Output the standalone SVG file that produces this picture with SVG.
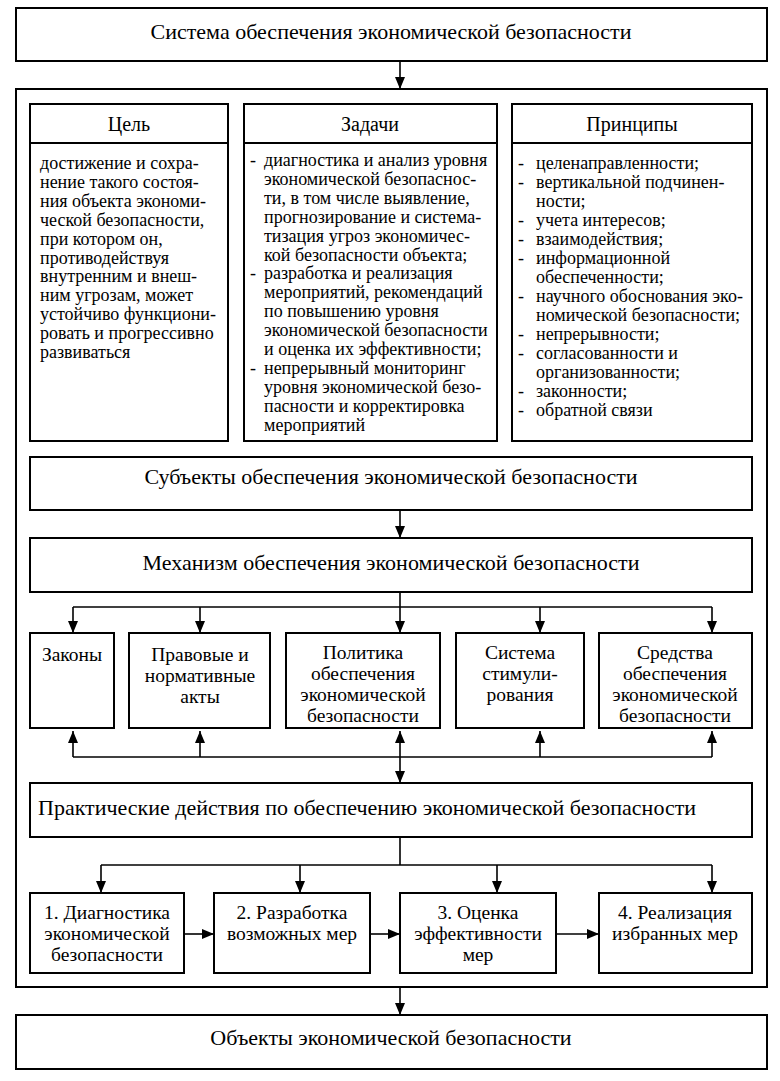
<svg xmlns="http://www.w3.org/2000/svg" width="780" height="1081" viewBox="0 0 780 1081" font-family="'Liberation Serif', 'DejaVu Serif', serif">
<style>
  .box { fill: #ffffff; stroke: #000000; stroke-width: 2; }
  .frame { fill: none; stroke: #000000; stroke-width: 2; }
  .line { fill: none; stroke: #000000; stroke-width: 1.6; }
  .arrow { fill: none; stroke: #000000; stroke-width: 1.6; marker-end: url(#ah); }
  text { font-family: 'Liberation Serif', 'DejaVu Serif', serif; fill: #000000; }
  .title { font-size: 22px; text-anchor: middle; }
  .left { text-anchor: start; }
  .head { font-size: 20px; text-anchor: middle; }
  .body { font-size: 18px; }
  .mid { font-size: 19.5px; text-anchor: middle; }
</style>
<defs>
  <marker id="ah" viewBox="0 0 12 10" refX="12" refY="5" markerWidth="12" markerHeight="10" markerUnits="userSpaceOnUse" orient="auto">
    <path d="M0,0 L12,5 L0,10 z" fill="#000000"/>
  </marker>
</defs>
<rect x="0" y="0" width="780" height="1081" fill="#ffffff"/>

<g id="system">
  <rect class="box" x="16" y="8" width="751" height="53"/>
  <text class="title" x="391" y="39">Система обеспечения экономической безопасности</text>
</g>

<g id="container">
  <rect class="frame" x="16" y="89" width="751" height="898"/>
</g>

<g id="goal">
  <rect class="box" x="30" y="104" width="198" height="39"/>
  <rect class="box" x="30" y="143" width="198" height="298"/>
  <text class="head" x="129" y="131">Цель</text>
  <text class="body" x="40" y="169">
    <tspan x="40" dy="0">достижение и сохра-</tspan>
    <tspan x="40" dy="18.9">нение такого состоя-</tspan>
    <tspan x="40" dy="18.9">ния объекта экономи-</tspan>
    <tspan x="40" dy="18.9">ческой безопасности,</tspan>
    <tspan x="40" dy="18.9">при котором он,</tspan>
    <tspan x="40" dy="18.9">противодействуя</tspan>
    <tspan x="40" dy="18.9">внутренним и внеш-</tspan>
    <tspan x="40" dy="18.9">ним угрозам, может</tspan>
    <tspan x="40" dy="18.9">устойчиво функциони-</tspan>
    <tspan x="40" dy="18.9">ровать и прогрессивно</tspan>
    <tspan x="40" dy="18.9">развиваться</tspan>
  </text>
</g>

<g id="tasks">
  <rect class="box" x="244" y="104" width="253" height="39"/>
  <rect class="box" x="244" y="143" width="253" height="298"/>
  <text class="head" x="370" y="131">Задачи</text>
  <text class="body" x="250" y="166">
    <tspan x="250" dy="0">-</tspan><tspan x="264" dy="0">диагностика и анализ уровня</tspan>
    <tspan x="264" dy="18.9">экономической безопаснос-</tspan>
    <tspan x="264" dy="18.9">ти, в том числе выявление,</tspan>
    <tspan x="264" dy="18.9">прогнозирование и система-</tspan>
    <tspan x="264" dy="18.9">тизация угроз экономичес-</tspan>
    <tspan x="264" dy="18.9">кой безопасности объекта;</tspan>
    <tspan x="250" dy="18.9">-</tspan><tspan x="264" dy="0">разработка и реализация</tspan>
    <tspan x="264" dy="18.9">мероприятий, рекомендаций</tspan>
    <tspan x="264" dy="18.9">по повышению уровня</tspan>
    <tspan x="264" dy="18.9">экономической безопасности</tspan>
    <tspan x="264" dy="18.9">и оценка их эффективности;</tspan>
    <tspan x="250" dy="18.9">-</tspan><tspan x="264" dy="0">непрерывный мониторинг</tspan>
    <tspan x="264" dy="18.9">уровня экономической безо-</tspan>
    <tspan x="264" dy="18.9">пасности и корректировка</tspan>
    <tspan x="264" dy="18.9">мероприятий</tspan>
  </text>
</g>

<g id="principles">
  <rect class="box" x="512" y="104" width="240" height="39"/>
  <rect class="box" x="512" y="143" width="240" height="298"/>
  <text class="head" x="632" y="131">Принципы</text>
  <text class="body" x="518" y="169">
    <tspan x="518" dy="0">-</tspan><tspan x="536" dy="0">целенаправленности;</tspan>
    <tspan x="518" dy="19">-</tspan><tspan x="536" dy="0">вертикальной подчинен-</tspan>
    <tspan x="536" dy="19">ности;</tspan>
    <tspan x="518" dy="19">-</tspan><tspan x="536" dy="0">учета интересов;</tspan>
    <tspan x="518" dy="19">-</tspan><tspan x="536" dy="0">взаимодействия;</tspan>
    <tspan x="518" dy="19">-</tspan><tspan x="536" dy="0">информационной</tspan>
    <tspan x="536" dy="19">обеспеченности;</tspan>
    <tspan x="518" dy="19">-</tspan><tspan x="536" dy="0">научного обоснования эко-</tspan>
    <tspan x="536" dy="19">номической безопасности;</tspan>
    <tspan x="518" dy="19">-</tspan><tspan x="536" dy="0">непрерывности;</tspan>
    <tspan x="518" dy="19">-</tspan><tspan x="536" dy="0">согласованности и</tspan>
    <tspan x="536" dy="19">организованности;</tspan>
    <tspan x="518" dy="19">-</tspan><tspan x="536" dy="0">законности;</tspan>
    <tspan x="518" dy="19">-</tspan><tspan x="536" dy="0">обратной связи</tspan>
  </text>
</g>

<g id="subjects">
  <rect class="box" x="30" y="457" width="722" height="53"/>
  <text class="title" x="391" y="484">Субъекты обеспечения экономической безопасности</text>
</g>

<g id="mechanism">
  <rect class="box" x="30" y="538" width="722" height="54"/>
  <text class="title" x="391" y="570">Механизм обеспечения экономической безопасности</text>
</g>

<g id="laws">
  <rect class="box" x="30" y="633" width="84" height="95"/>
  <text class="mid" x="72" y="661">Законы</text>
</g>
<g id="acts">
  <rect class="box" x="129" y="633" width="141" height="95"/>
  <text class="mid" x="200" y="661"><tspan x="200" dy="0">Правовые и</tspan><tspan x="200" dy="21">нормативные</tspan><tspan x="200" dy="21">акты</tspan></text>
</g>
<g id="policy">
  <rect class="box" x="286" y="633" width="154" height="95"/>
  <text class="mid" x="363" y="659"><tspan x="363" dy="0">Политика</tspan><tspan x="363" dy="21">обеспечения</tspan><tspan x="363" dy="21">экономической</tspan><tspan x="363" dy="21">безопасности</tspan></text>
</g>
<g id="incentives">
  <rect class="box" x="456" y="633" width="128" height="95"/>
  <text class="mid" x="520" y="659"><tspan x="520" dy="0">Система</tspan><tspan x="520" dy="21">стимули-</tspan><tspan x="520" dy="21">рования</tspan></text>
</g>
<g id="means">
  <rect class="box" x="599" y="633" width="153" height="95"/>
  <text class="mid" x="675" y="659"><tspan x="675" dy="0">Средства</tspan><tspan x="675" dy="21">обеспечения</tspan><tspan x="675" dy="21">экономической</tspan><tspan x="675" dy="21">безопасности</tspan></text>
</g>

<g id="practice">
  <rect class="box" x="30" y="783" width="722" height="54"/>
  <text class="title left" x="38" y="815">Практические действия по обеспечению экономической безопасности</text>
</g>

<g id="step1">
  <rect class="box" x="30" y="893" width="154" height="80"/>
  <text class="mid" x="107" y="919"><tspan x="107" dy="0">1. Диагностика</tspan><tspan x="107" dy="21">экономической</tspan><tspan x="107" dy="21">безопасности</tspan></text>
</g>
<g id="step2">
  <rect class="box" x="214" y="893" width="156" height="80"/>
  <text class="mid" x="292" y="919"><tspan x="292" dy="0">2. Разработка</tspan><tspan x="292" dy="21">возможных мер</tspan></text>
</g>
<g id="step3">
  <rect class="box" x="400" y="893" width="156" height="80"/>
  <text class="mid" x="478" y="919"><tspan x="478" dy="0">3. Оценка</tspan><tspan x="478" dy="21">эффективности</tspan><tspan x="478" dy="21">мер</tspan></text>
</g>
<g id="step4">
  <rect class="box" x="599" y="893" width="153" height="80"/>
  <text class="mid" x="675" y="919"><tspan x="675" dy="0">4. Реализация</tspan><tspan x="675" dy="21">избранных мер</tspan></text>
</g>

<g id="objects">
  <rect class="box" x="16" y="1015" width="751" height="54"/>
  <text class="title" x="391" y="1045">Объекты экономической безопасности</text>
</g>

<g id="connectors">
  <line class="arrow" x1="400" y1="61" x2="400" y2="89"/>
  <line class="arrow" x1="400" y1="510" x2="400" y2="538"/>
  <line class="line" x1="400" y1="592" x2="400" y2="607"/>
  <line class="line" x1="73" y1="607" x2="712" y2="607"/>
  <line class="arrow" x1="73" y1="607" x2="73" y2="633"/>
  <line class="arrow" x1="200" y1="607" x2="200" y2="633"/>
  <line class="arrow" x1="400" y1="607" x2="400" y2="633"/>
  <line class="arrow" x1="540" y1="607" x2="540" y2="633"/>
  <line class="arrow" x1="712" y1="607" x2="712" y2="633"/>
  <line class="line" x1="73" y1="757" x2="712" y2="757"/>
  <line class="arrow" x1="73" y1="757" x2="73" y2="731"/>
  <line class="arrow" x1="200" y1="757" x2="200" y2="731"/>
  <line class="arrow" x1="400" y1="757" x2="400" y2="731"/>
  <line class="arrow" x1="540" y1="757" x2="540" y2="731"/>
  <line class="arrow" x1="712" y1="757" x2="712" y2="731"/>
  <line class="arrow" x1="400" y1="757" x2="400" y2="783"/>
  <line class="line" x1="400" y1="837" x2="400" y2="865"/>
  <line class="line" x1="101" y1="865" x2="712" y2="865"/>
  <line class="arrow" x1="101" y1="865" x2="101" y2="893"/>
  <line class="arrow" x1="300" y1="865" x2="300" y2="893"/>
  <line class="arrow" x1="497" y1="865" x2="497" y2="893"/>
  <line class="arrow" x1="712" y1="865" x2="712" y2="893"/>
  <line class="arrow" x1="184" y1="934" x2="214" y2="934"/>
  <line class="arrow" x1="370" y1="934" x2="400" y2="934"/>
  <line class="arrow" x1="556" y1="934" x2="599" y2="934"/>
  <line class="arrow" x1="400" y1="987" x2="400" y2="1015"/>
</g>
</svg>
